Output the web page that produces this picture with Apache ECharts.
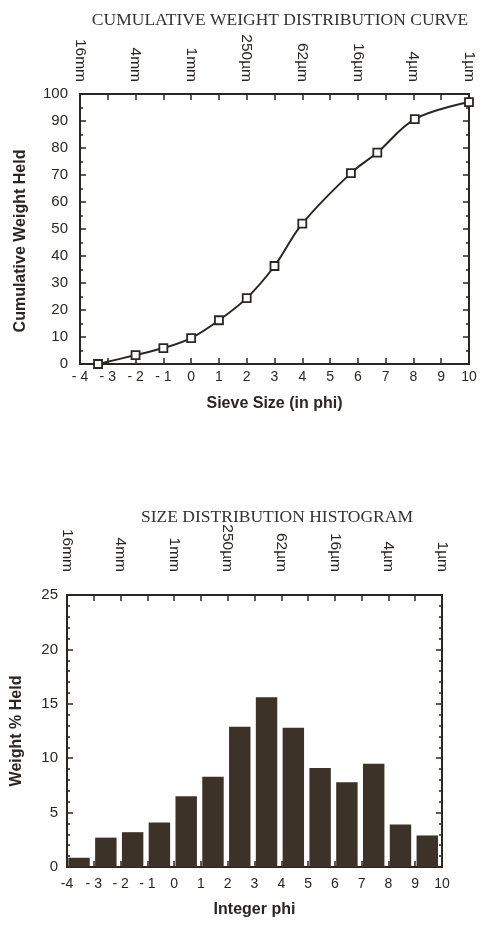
<!DOCTYPE html>
<html>
<head>
<meta charset="utf-8">
<script src="https://cdn.jsdelivr.net/npm/echarts@6/dist/echarts.min.js"></script>
<style>
  html, body { margin: 0; padding: 0; background: #fff; }
  #chart { width: 481px; height: 925px; }
</style>
</head>
<body>
<div id="chart"></div>
<script>
// cumulative curve: phi / cumulative weight held (%)
var cumPhi = [-3.35, -2, -1, 0, 1, 2, 3, 4, 5.75, 6.7, 8.05, 10];
var cumWeight = [0, 3.3, 5.9, 9.6, 16.2, 24.4, 36.3, 52, 70.7, 78.3, 90.7, 97];

// histogram: integer phi class / weight % held
var histPhi = [-4, -3, -2, -1, 0, 1, 2, 3, 4, 5, 6, 7, 8, 9];
var histWeight = [0.85, 2.7, 3.2, 4.1, 6.5, 8.3, 12.9, 15.6, 12.8, 9.1, 7.8, 9.5, 3.9, 2.9];

// tick labels
var phiTicks = [-4, -3, -2, -1, 0, 1, 2, 3, 4, 5, 6, 7, 8, 9, 10];
var cumTickLabels = ['- 4', '- 3', '- 2', '- 1', '0', '1', '2', '3', '4', '5', '6', '7', '8', '9', '10'];
var histTickLabels = ['-4', '- 3', '- 2', '- 1', '0', '1', '2', '3', '4', '5', '6', '7', '8', '9', '10'];
var sizeTicks = [-4, -2, 0, 2, 4, 6, 8, 10];
var sizeLabels = ['16mm', '4mm', '1mm', '250µm', '62µm', '16µm', '4µm', '1µm'];

var ink = '#2b2622';
var sans = 'Liberation Sans, Arial, sans-serif';
var serif = 'Liberation Serif, Times New Roman, serif';

function phiLabel(arr) {
    return function (v) {
        var i = phiTicks.indexOf(Math.round(v));
        return i < 0 ? '' : arr[i];
    };
}
function sizeLabel(v) {
    var i = sizeTicks.indexOf(Math.round(v));
    return i < 0 ? '' : sizeLabels[i];
}

function bottomX(gridIndex, labels, margin, name, gap) {
    return {
        type: 'value', gridIndex: gridIndex, position: 'bottom',
        min: -4, max: 10, interval: 1,
        name: name, nameLocation: 'middle', nameGap: gap,
        nameTextStyle: { fontFamily: sans, fontWeight: 'bold', fontSize: 16, color: ink },
        axisLine: { onZero: false, lineStyle: { color: ink, width: 2 } },
        axisTick: { inside: true, length: 6, lineStyle: { color: ink, width: 1.5 } },
        axisLabel: { formatter: phiLabel(labels), margin: margin, fontFamily: sans, fontSize: 14, color: ink },
        splitLine: { show: false }
    };
}
function topX(gridIndex, margin) {
    return {
        type: 'value', gridIndex: gridIndex, position: 'top',
        min: -4, max: 10, interval: 1,
        axisLine: { onZero: false, lineStyle: { color: ink, width: 2 } },
        axisTick: { inside: true, length: 6, lineStyle: { color: ink, width: 1.5 } },
        axisLabel: { formatter: sizeLabel, rotate: 90, margin: margin, fontFamily: sans, fontSize: 15.5, color: ink },
        splitLine: { show: false }
    };
}
function leftY(gridIndex, max, interval, minorSplit, margin, name, gap, namePad) {
    return {
        type: 'value', gridIndex: gridIndex, position: 'left',
        min: 0, max: max, interval: interval,
        name: name, nameLocation: 'middle', nameGap: gap,
        nameTextStyle: { fontFamily: sans, fontWeight: 'bold', fontSize: 16, color: ink, padding: namePad },
        axisLine: { show: true, onZero: false, lineStyle: { color: ink, width: 2 } },
        axisTick: { inside: true, length: 6, lineStyle: { color: ink, width: 1.5 } },
        minorTick: { show: true, splitNumber: minorSplit, length: 3, lineStyle: { color: ink, width: 1.5 } },
        axisLabel: { margin: margin, fontFamily: sans, fontSize: 15, color: ink },
        splitLine: { show: false }
    };
}
function rightY(gridIndex, max, interval, minorSplit) {
    return {
        type: 'value', gridIndex: gridIndex, position: 'right',
        min: 0, max: max, interval: interval,
        axisLine: { show: true, onZero: false, lineStyle: { color: ink, width: 2 } },
        axisTick: { inside: true, length: 6, lineStyle: { color: ink, width: 1.5 } },
        minorTick: { show: true, splitNumber: minorSplit, length: 3, lineStyle: { color: ink, width: 1.5 } },
        axisLabel: { show: false },
        splitLine: { show: false }
    };
}

var myChart = echarts.init(document.getElementById('chart'));
myChart.setOption({
    animation: false,
    backgroundColor: '#fff',
    title: [
        { text: 'CUMULATIVE WEIGHT DISTRIBUTION CURVE', left: 275, top: 6, textAlign: 'center',
          textStyle: { fontFamily: serif, fontWeight: 'normal', fontSize: 17.5, color: '#333' } },
        { text: 'SIZE DISTRIBUTION HISTOGRAM', left: 272, top: 503, textAlign: 'center',
          textStyle: { fontFamily: serif, fontWeight: 'normal', fontSize: 17.5, color: '#333' } }
    ],
    grid: [
        { left: 80, right: 12, top: 94, height: 270 },
        { left: 67, right: 39, top: 595, height: 272 }
    ],
    xAxis: [
        bottomX(0, cumTickLabels, 6, 'Sieve Size (in phi)', 32),
        topX(0, 12),
        bottomX(1, histTickLabels, 10, 'Integer phi', 35),
        topX(1, 23)
    ],
    yAxis: [
        leftY(0, 100, 10, 2, 12, 'Cumulative Weight Held', 51, [0, 24, 0, 0]),
        rightY(0, 100, 10, 2),
        leftY(1, 25, 5, 5, 9, 'Weight % Held', 42, 0),
        rightY(1, 25, 5, 5)
    ],
    series: [
        {
            type: 'line', xAxisIndex: 0, yAxisIndex: 0,
            data: cumPhi.map(function (p, i) { return [p, cumWeight[i]]; }),
            smooth: 0.35,
            symbol: 'rect', symbolSize: 8,
            lineStyle: { color: ink, width: 2 },
            itemStyle: { color: '#fff', borderColor: ink, borderWidth: 1.8 }
        },
        {
            type: 'custom', xAxisIndex: 2, yAxisIndex: 2,
            data: histPhi.map(function (p, i) { return [p, histWeight[i]]; }),
            renderItem: function (params, api) {
                var p0 = api.coord([api.value(0) + 0.05, 0]);
                var p1 = api.coord([api.value(0) + 0.85, api.value(1)]);
                return {
                    type: 'rect',
                    shape: { x: p0[0], y: p1[1], width: p1[0] - p0[0], height: p0[1] - p1[1] },
                    style: { fill: '#3d3227' }
                };
            }
        }
    ]
});
</script>
</body>
</html>
